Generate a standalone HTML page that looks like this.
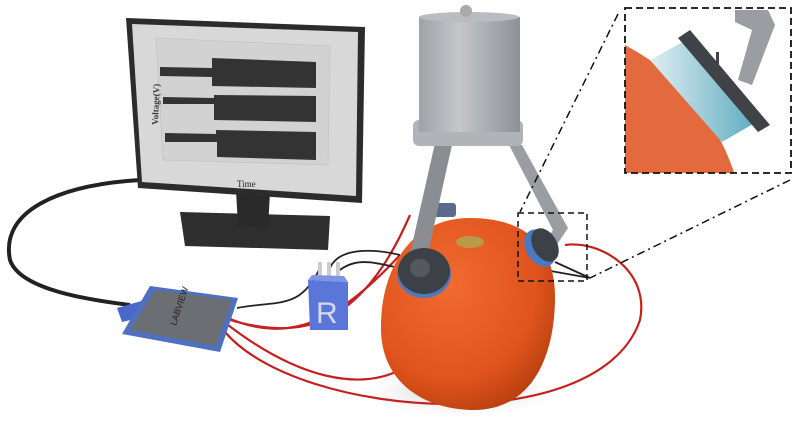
<!DOCTYPE html>
<html><head><meta charset="utf-8"><style>body{margin:0;background:#fff}svg{display:block}</style></head><body>
<svg width="798" height="436" viewBox="0 0 798 436" xmlns="http://www.w3.org/2000/svg">
<defs>
<radialGradient id="og" cx="0.4" cy="0.35" r="0.7"><stop offset="0" stop-color="#f06a32"/><stop offset="0.7" stop-color="#e0541d"/><stop offset="1" stop-color="#b8400f"/></radialGradient>
<linearGradient id="cy" x1="0" x2="1"><stop offset="0" stop-color="#9ea3a8"/><stop offset="0.4" stop-color="#c4c7ca"/><stop offset="1" stop-color="#8d9196"/></linearGradient>
<linearGradient id="tea" x1="0" x2="1"><stop offset="0" stop-color="#dfeef2"/><stop offset="1" stop-color="#5aa9bd"/></linearGradient>
<radialGradient id="sh" cx="0.5" cy="0.5" r="0.5"><stop offset="0" stop-color="#999" stop-opacity="0.6"/><stop offset="1" stop-color="#fff" stop-opacity="0"/></radialGradient>
</defs>
<path d="M140,180 C60,185 0,210 10,260 C20,290 90,300 130,305" fill="none" stroke="#222" stroke-width="4"/>
<polygon points="180,212 330,216 328,250 185,246" fill="#2e2e2e"/>
<polygon points="236,190 270,192 268,228 238,226" fill="#2a2a2a"/>
<polygon points="126,18 365,27 362,203 138,188" fill="#2c2c2c"/>
<polygon points="132,24 358,32 356,196 142,182" fill="#d8d8d8"/>
<polygon points="156,38 330,46 328,165 163,160" fill="#d2d2d2" stroke="#bbb" stroke-width="0.5"/>
<g fill="#333">
<polygon points="160,67 212,68 212,58 316,62 316,88 212,86 212,77 160,76"/>
<polygon points="163,97 214,98 214,95 316,96 316,122 214,120 214,104 163,104"/>
<polygon points="165,133 216,134 216,130 316,132 316,160 217,157 217,142 165,142"/>
</g>
<text x="0" y="0" transform="translate(158,125) rotate(-88)" font-family="Liberation Serif,serif" font-size="9" font-weight="bold" fill="#333">Voltage(V)</text>
<text x="237" y="187" font-family="Liberation Serif,serif" font-size="9" fill="#222">Time</text>
<ellipse cx="460" cy="392" rx="110" ry="28" fill="url(#sh)"/>
<g fill="none" stroke="#c42020" stroke-width="2.2">
<path d="M228,318 C290,345 340,320 400,255"/>
<path d="M228,325 C300,380 360,390 400,370 C440,350 455,320 452,285"/>
<path d="M225,332 C300,420 600,440 640,320 C650,270 600,240 565,245"/>
<path d="M230,320 C300,340 360,330 410,215"/>
</g>
<g fill="none" stroke="#222" stroke-width="1.8">
<path d="M237,308 C280,300 300,310 320,268"/>
<path d="M330,268 C340,245 380,250 400,255"/>
<path d="M340,270 C360,255 380,265 410,270"/>
<path d="M545,270 L590,278 L555,262"/>
</g>
<rect x="318" y="262" width="4" height="22" fill="#ccc"/><rect x="327" y="262" width="4" height="22" fill="#ccc"/><rect x="336" y="262" width="4" height="22" fill="#ccc"/>
<polygon points="308,280 348,282 348,330 310,330" fill="#5a76d8"/>
<polygon points="308,280 348,282 344,276 312,275" fill="#7e95e6"/>
<text x="316" y="323" font-family="Liberation Sans,sans-serif" font-size="30" fill="#d8d8e8">R</text>
<polygon points="117,308 145,300 148,316 122,322" fill="#4a68c9"/>
<polygon points="150,286 238,298 220,352 122,334" fill="#4f6fc0"/>
<polygon points="155,290 232,300 216,346 130,330" fill="#6b6f74"/>
<text transform="translate(176,326) rotate(-72)" font-family="Liberation Sans,sans-serif" font-size="9" fill="#222">LABVIEW</text>
<path d="M470,218 C530,218 556,250 555,300 C554,360 530,412 470,410 C420,408 382,380 381,330 C380,270 410,218 470,218 Z" fill="url(#og)"/>
<ellipse cx="470" cy="242" rx="14" ry="6" fill="#b89a4a"/>
<rect x="432" y="203" width="24" height="14" rx="3" fill="#5a6b8c"/>
<polygon points="435,143 452,145 422,280 405,276" fill="#8a8e93"/>
<polygon points="508,143 522,145 568,228 548,258 538,252 553,230" fill="#9a9ea3"/>
<rect x="413" y="120" width="110" height="26" rx="6" fill="#b0b3b7"/>
<rect x="419" y="17" width="101" height="115" fill="url(#cy)"/>
<ellipse cx="469" cy="17" rx="50" ry="5" fill="#b9bcc0"/>
<circle cx="466" cy="11" r="6" fill="#aaa"/>
<ellipse cx="424" cy="274" rx="27" ry="24" fill="#4a79c2"/>
<ellipse cx="424" cy="271" rx="26" ry="23" fill="#3c4047"/>
<ellipse cx="420" cy="268" rx="10" ry="9" fill="#55595f"/>
<ellipse cx="540" cy="248" rx="14" ry="20" fill="#4a79c2" transform="rotate(-30 540 248)"/>
<ellipse cx="545" cy="245" rx="12" ry="18" fill="#3c4047" transform="rotate(-30 545 245)"/>
<rect x="518" y="213" width="69" height="68" fill="none" stroke="#111" stroke-width="1.5" stroke-dasharray="6,4"/>
<g stroke="#111" stroke-width="1.5" stroke-dasharray="8,4,2,4" fill="none">
<path d="M618,14 L520,212"/>
<path d="M790,180 L590,278"/>
</g>
<clipPath id="ic"><rect x="625" y="8" width="166" height="165"/></clipPath>
<rect x="625" y="8" width="166" height="165" fill="#fff"/>
<g clip-path="url(#ic)">
<path d="M625,45 C690,80 720,130 735,175 L625,175 Z" fill="#e36a3e"/>
<polygon points="650,60 690,38 760,120 722,142" fill="url(#tea)"/>
<polygon points="678,38 690,30 770,125 758,132" fill="#3f4246"/>
<polygon points="735,10 768,10 775,25 752,85 738,80 752,30 735,22" fill="#9a9ea3"/>
<rect x="716" y="52" width="3" height="26" fill="#444"/>
</g>
<rect x="625" y="8" width="166" height="165" fill="none" stroke="#111" stroke-width="1.8" stroke-dasharray="7,4"/>
</svg>
</body></html>
